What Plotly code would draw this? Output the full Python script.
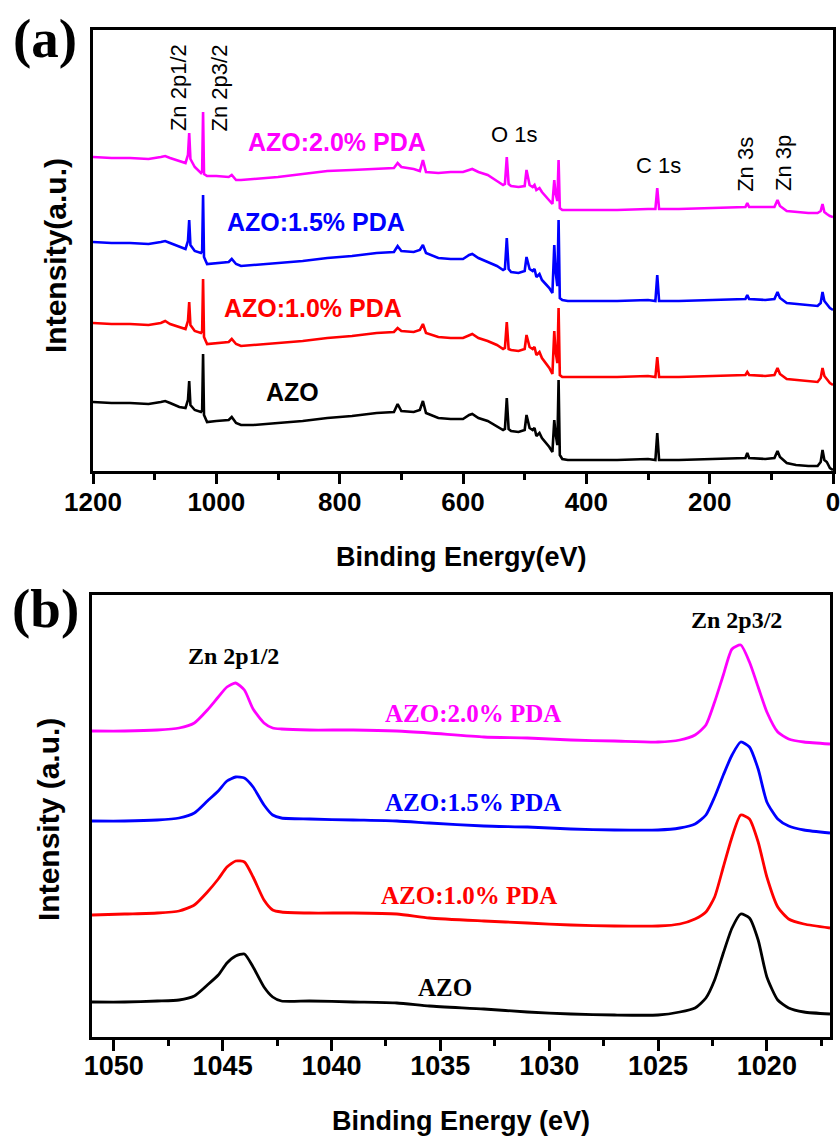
import plotly.graph_objects as go

# ---------------- (a) survey spectra ----------------
survey_energy = [1200, 1170, 1140, 1110, 1090, 1083, 1075, 1060, 1050, 1046,
                 1044, 1042, 1035, 1025, 1023, 1021.5, 1020, 1015, 1000, 980,
                 975, 968, 960, 940, 900, 860, 820, 780, 740, 712,
                 706, 700, 680, 670, 665, 660, 640, 620, 600, 590,
                 585, 575, 560, 545, 535, 532, 529, 526, 522, 510,
                 500, 497, 492, 487, 484, 481, 476, 472, 466, 460,
                 455, 452, 450, 447, 445, 443, 439, 430, 400, 350,
                 300, 288, 285, 282, 250, 200, 160, 142, 139, 136,
                 110, 95, 90, 86, 75, 60, 40, 25, 20, 17,
                 14, 10, 5, 0]
survey_azo = [69, 68, 68, 67, 69, 70, 68, 64, 63, 71,
              90, 66, 61, 59, 61, 117, 56, 49, 50, 51,
              54, 48, 46, 46, 48, 50, 53, 55, 58, 59,
              67, 60, 59, 61, 70, 58, 53, 52, 52, 56,
              57, 53, 50, 45, 41, 42, 73, 42, 40, 39,
              41, 56, 43, 41, 43, 35, 38, 33, 29, 24,
              19, 51, 38, 26, 91, 16, 12, 11, 11, 11,
              12, 11, 38, 11, 11, 12, 13, 13, 18, 13,
              12, 13, 20, 14, 8, 6, 5, 5, 9, 21,
              11, 9, 3, 1]
survey_pda10 = [148, 147, 147, 146, 148, 150, 147, 144, 142, 150,
                169, 146, 140, 138, 140, 192, 134, 127, 128, 129,
                132, 127, 125, 126, 128, 130, 133, 135, 138, 139,
                143, 140, 139, 141, 147, 138, 134, 133, 133, 136,
                137, 133, 130, 126, 122, 123, 149, 122, 121, 120,
                122, 136, 124, 122, 124, 116, 119, 113, 108, 103,
                97, 140, 120, 108, 163, 96, 94, 94, 94, 94,
                95, 94, 114, 94, 94, 95, 96, 96, 99, 96,
                95, 96, 103, 97, 92, 91, 90, 89, 93, 103,
                95, 92, 88, 86]
survey_pda15 = [229, 228, 228, 227, 229, 230, 228, 224, 222, 230,
                251, 226, 220, 218, 220, 276, 214, 207, 208, 209,
                212, 207, 205, 206, 208, 210, 213, 215, 218, 219,
                225, 220, 219, 221, 226, 218, 213, 212, 212, 216,
                217, 213, 209, 205, 201, 202, 233, 202, 199, 198,
                200, 214, 202, 200, 202, 194, 197, 191, 187, 183,
                178, 226, 200, 185, 251, 173, 171, 170, 170, 170,
                171, 170, 196, 170, 170, 171, 172, 172, 176, 172,
                171, 172, 179, 173, 168, 167, 166, 165, 168, 179,
                170, 167, 163, 161]
survey_pda20 = [314, 313, 313, 312, 314, 315, 313, 310, 308, 316,
                338, 312, 304, 298, 300, 359, 297, 295, 295, 294,
                296, 291, 291, 292, 294, 297, 300, 301, 302, 303,
                308, 304, 302, 300, 311, 299, 298, 299, 299, 301,
                302, 299, 296, 290, 286, 287, 314, 287, 285, 284,
                285, 301, 286, 284, 286, 281, 283, 279, 275, 271,
                267, 291, 278, 270, 311, 263, 261, 261, 261, 261,
                262, 262, 283, 262, 262, 263, 264, 264, 268, 264,
                264, 264, 271, 265, 260, 259, 258, 258, 260, 267,
                259, 257, 255, 254]

# ---------------- (b) Zn 2p high resolution ----------------
zn_energy = [1051, 1049.5, 1048, 1047, 1046.3, 1045.7, 1045.2, 1044.8, 1044.4, 1044.0,
             1043.6, 1043.1, 1042.7, 1042.3, 1041, 1039, 1037, 1035.5, 1033, 1031,
             1029, 1027, 1025, 1024, 1023.3, 1022.8, 1022.4, 1022.0, 1021.6, 1021.2,
             1020.8, 1020.4, 1020.0, 1019.5, 1019.0, 1018.3, 1017.1]
zn_azo = [35, 35, 36, 37, 41, 52, 62, 74, 81, 83,
          70, 50, 40, 36, 36, 35, 34, 31, 28, 25,
          23, 22, 22, 25, 29, 39, 57, 84, 109, 123,
          119, 97, 60, 37, 29, 25, 23]
zn_pda10 = [122, 123, 124, 126, 132, 145, 158, 170, 176, 175,
            160, 137, 127, 125, 124, 124, 123, 119, 116, 114,
            112, 111, 111, 113, 118, 125, 140, 170, 200, 222,
            218, 195, 160, 130, 118, 113, 109]
zn_pda15 = [216, 216, 217, 219, 224, 236, 246, 256, 260, 259,
            250, 232, 222, 219, 218, 217, 216, 214, 211, 210,
            208, 207, 207, 209, 213, 222, 240, 262, 282, 295,
            290, 268, 235, 218, 211, 207, 204]
zn_pda20 = [306, 306, 307, 309, 314, 327, 340, 350, 354, 347,
            328, 314, 309, 308, 307, 307, 306, 304, 300, 299,
            297, 296, 295, 297, 302, 312, 335, 362, 388, 392,
            375, 350, 325, 305, 298, 295, 293]

series_names = ["AZO", "AZO:1.0% PDA", "AZO:1.5% PDA", "AZO:2.0% PDA"]
series_colors = ["#000000", "#FF0000", "#0000FF", "#FF00FF"]

W, H = 840, 1142
SANS = "Arial, 'Liberation Sans', sans-serif"
SERIF = "'Times New Roman', 'Liberation Serif', serif"

fig = go.Figure()

survey_sets = [survey_azo, survey_pda10, survey_pda15, survey_pda20]
for name, col, ys in zip(series_names, series_colors, survey_sets):
    fig.add_trace(go.Scatter(x=survey_energy, y=ys, mode="lines", name=name,
                             line=dict(color=col, width=2.6),
                             xaxis="x", yaxis="y", showlegend=False))

zn_sets = [zn_azo, zn_pda10, zn_pda15, zn_pda20]
for name, col, ys in zip(series_names, series_colors, zn_sets):
    fig.add_trace(go.Scatter(x=zn_energy, y=ys, mode="lines", name=name,
                             line=dict(color=col, width=2.8, shape="spline", smoothing=0.6),
                             xaxis="x2", yaxis="y2", showlegend=False))

def px_x(p):
    return p / W

def px_y(p):
    return 1 - p / H

axis_common = dict(showline=True, linecolor="black", linewidth=2.5, mirror=True,
                   showgrid=False, zeroline=False, automargin=False)

fig.update_layout(
    width=W, height=H,
    margin=dict(l=0, r=0, t=0, b=0, autoexpand=False),
    paper_bgcolor="white", plot_bgcolor="white",
    xaxis=dict(domain=[px_x(93), px_x(833)], anchor="y", range=[1200, 0],
               tickvals=[1200, 1000, 800, 600, 400, 200, 0],
               ticks="outside", ticklen=10, tickwidth=2.5, tickcolor="black",
               ticklabeloverflow="allow", ticklabelstandoff=-4,
               minor=dict(dtick=100, tick0=0, ticks="outside", ticklen=6, tickwidth=2.5, tickcolor="black"),
               tickfont=dict(family=SANS, size=26, color="black", weight="bold"),
               **axis_common),
    yaxis=dict(domain=[px_y(471), px_y(30)], anchor="x", range=[0, 441],
               showticklabels=False, ticks="", **axis_common),
    xaxis2=dict(domain=[px_x(92), px_x(830)], anchor="y2", range=[1051, 1017.1],
                tickvals=[1050, 1045, 1040, 1035, 1030, 1025, 1020],
                ticks="outside", ticklen=11, tickwidth=2.5, tickcolor="black",
                ticklabeloverflow="allow", ticklabelstandoff=-8,
                minor=dict(dtick=2.5, tick0=1020, ticks="outside", ticklen=6, tickwidth=2.5, tickcolor="black"),
                tickfont=dict(family=SANS, size=27, color="black", weight="bold"),
                **axis_common),
    yaxis2=dict(domain=[px_y(1037), px_y(595)], anchor="x2", range=[0, 442],
                showticklabels=False, ticks="", **axis_common),
)

ann = []
# panel (a) peak labels (Arial regular)
peak_a = [("Zn 2p1/2", 1062, 383, -90), ("Zn 2p3/2", 995, 383, -90),
          ("O 1s", 518, 337, 0), ("C 1s", 282.5, 306, 0),
          ("Zn 3s", 143, 307, -90), ("Zn 3p", 81, 308, -90)]
for t, x, y, rot in peak_a:
    ann.append(dict(text=t, x=x, y=y, xref="x", yref="y", showarrow=False,
                    textangle=rot, xanchor="center", yanchor="middle",
                    font=dict(family=SANS, size=22, color="black")))
# panel (a) series labels
lab_a = [("AZO", 877, 79), ("AZO:1.0% PDA", 844, 163),
         ("AZO:1.5% PDA", 838, 249), ("AZO:2.0% PDA", 804, 329)]
for (t, x, y), col in zip(lab_a, series_colors):
    ann.append(dict(text=t, x=x, y=y, xref="x", yref="y", showarrow=False,
                    xanchor="center", yanchor="middle",
                    font=dict(family=SANS, size=25, color=col, weight="bold")))
# panel (b) peak labels
for t, x, y in [("Zn 2p1/2", 1044.5, 381), ("Zn 2p3/2", 1021.4, 417)]:
    ann.append(dict(text=t, x=x, y=y, xref="x2", yref="y2", showarrow=False,
                    xanchor="center", yanchor="middle",
                    font=dict(family=SERIF, size=24, color="black", weight="bold")))
lab_b = [("AZO", 1034.8, 50), ("AZO:1.0% PDA", 1033.7, 142),
         ("AZO:1.5% PDA", 1033.5, 235), ("AZO:2.0% PDA", 1033.5, 324)]
for (t, x, y), col in zip(lab_b, series_colors):
    ann.append(dict(text=t, x=x, y=y, xref="x2", yref="y2", showarrow=False,
                    xanchor="center", yanchor="middle",
                    font=dict(family=SERIF, size=25, color=col, weight="bold")))
# axis titles and panel letters
ann += [
    dict(text="Binding Energy(eV)", x=px_x(461), y=px_y(557), xref="paper", yref="paper",
         showarrow=False, xanchor="center", yanchor="middle",
         font=dict(family=SANS, size=27, color="black", weight="bold")),
    dict(text="Binding Energy (eV)", x=px_x(461), y=px_y(1121), xref="paper", yref="paper",
         showarrow=False, xanchor="center", yanchor="middle",
         font=dict(family=SANS, size=27, color="black", weight="bold")),
    dict(text="Intensity(a.u.)", x=px_x(55), y=px_y(256), xref="paper", yref="paper",
         showarrow=False, textangle=-90, xanchor="center", yanchor="middle",
         font=dict(family=SANS, size=30, color="black", weight="bold")),
    dict(text="Intensity (a.u.)", x=px_x(48), y=px_y(820), xref="paper", yref="paper",
         showarrow=False, textangle=-90, xanchor="center", yanchor="middle",
         font=dict(family=SANS, size=30, color="black", weight="bold")),
    dict(text="(a)", x=px_x(45), y=px_y(38), xref="paper", yref="paper",
         showarrow=False, xanchor="center", yanchor="middle",
         font=dict(family=SERIF, size=55, color="black", weight="bold")),
    dict(text="(b)", x=px_x(45), y=px_y(608), xref="paper", yref="paper",
         showarrow=False, xanchor="center", yanchor="middle",
         font=dict(family=SERIF, size=55, color="black", weight="bold")),
]
fig.update_layout(annotations=ann)

fig.write_html("out.html")
